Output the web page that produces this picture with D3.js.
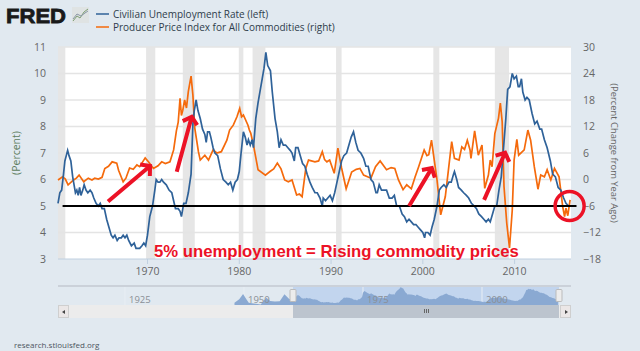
<!DOCTYPE html>
<html>
<head>
<meta charset="utf-8">
<script src="https://cdn.jsdelivr.net/npm/d3@7"></script>
<style>
  html, body { margin: 0; padding: 0; background: #e1e9f0; }
  svg { display: block; }
  text { font-family: "Open Sans", sans-serif; }
  .axis path { display: none; }
  .axis text { fill: #666; font-size: 10.5px; font-family: "Open Sans", sans-serif; }
</style>
</head>
<body>
<div id="graph"></div>
<script>
// Series, as [year, value]
const unemployment = [
  [1960.3,5.1],[1960.5,5.5],[1960.7,5.6],[1960.9,6.2],[1961.05,6.7],[1961.2,6.9],[1961.35,7.1],[1961.5,6.9],[1961.7,6.7],[1961.9,6.1],
  [1962.05,5.8],[1962.2,5.5],[1962.35,5.6],[1962.5,5.4],[1962.65,5.7],[1962.8,5.4],[1963,5.6],[1963.15,5.8],[1963.35,5.6],[1963.55,5.5],
  [1963.8,5.6],[1964,5.5],[1964.2,5.3],[1964.45,5.1],[1964.7,5.0],[1964.9,5.1],[1965.1,4.9],[1965.35,4.9],[1965.6,4.5],[1965.85,4.2],
  [1966.1,3.9],[1966.3,3.8],[1966.5,3.9],[1966.75,3.7],[1966.95,3.8],[1967.2,3.8],[1967.4,3.9],[1967.6,3.8],[1967.8,3.9],[1968,3.7],
  [1968.3,3.5],[1968.6,3.6],[1968.8,3.4],[1969.2,3.4],[1969.45,3.5],[1969.65,3.6],[1969.85,3.5],[1970.05,3.9],[1970.3,4.6],[1970.6,5.0],
  [1970.85,5.6],[1971,6.0],[1971.2,5.9],[1971.4,5.9],[1971.6,6.0],[1971.8,5.9],[1972.1,5.8],[1972.4,5.6],[1972.7,5.5],[1972.9,5.2],
  [1973.1,4.9],[1973.4,4.9],[1973.6,4.8],[1973.75,4.6],[1974,5.1],[1974.25,5.1],[1974.5,5.5],[1974.8,6.2],[1975,8.1],[1975.15,8.6],
  [1975.35,9.0],[1975.55,8.6],[1975.8,8.3],[1976.05,7.9],[1976.3,7.7],[1976.45,7.4],[1976.6,7.8],[1976.8,7.8],[1976.95,7.6],[1977.2,7.2],
  [1977.4,7.0],[1977.7,6.9],[1978,6.4],[1978.3,6.0],[1978.6,5.9],[1978.85,5.8],[1979.1,5.9],[1979.35,5.6],[1979.6,5.9],[1979.85,6.0],
  [1980.05,6.3],[1980.25,7.0],[1980.5,7.8],[1980.7,7.6],[1980.9,7.3],[1981.05,7.5],[1981.25,7.3],[1981.45,7.5],[1981.6,7.2],[1981.85,8.3],
  [1982.1,8.9],[1982.35,9.4],[1982.55,9.8],[1982.75,10.2],[1982.95,10.8],[1983.15,10.3],[1983.45,10.1],[1983.65,9.3],[1983.95,8.3],[1984.2,7.8],
  [1984.4,7.2],[1984.6,7.5],[1984.85,7.3],[1985.1,7.3],[1985.35,7.2],[1985.6,7.1],[1985.8,7.0],[1986.05,6.7],[1986.2,7.2],[1986.45,7.2],
  [1986.7,6.9],[1986.95,6.6],[1987.2,6.5],[1987.45,6.2],[1987.75,5.9],[1988,5.7],[1988.3,5.5],[1988.55,5.5],[1988.85,5.3],[1989.1,5.0],
  [1989.2,5.3],[1989.45,5.2],[1989.7,5.3],[1989.95,5.4],[1990.2,5.2],[1990.45,5.5],[1990.7,5.9],[1990.95,6.3],[1991.2,6.7],[1991.45,6.9],
  [1991.75,7.0],[1992,7.3],[1992.25,7.6],[1992.5,7.8],[1992.75,7.4],[1993,7.1],[1993.3,7.0],[1993.6,6.8],[1993.85,6.5],[1994.1,6.5],
  [1994.4,6.0],[1994.65,5.9],[1994.95,5.5],[1995.1,5.5],[1995.3,5.8],[1995.55,5.6],[1995.85,5.6],[1996.1,5.6],[1996.4,5.3],[1996.7,5.3],
  [1996.95,5.4],[1997.2,5.0],[1997.5,5.0],[1997.8,4.7],[1998.05,4.6],[1998.3,4.4],[1998.55,4.5],[1998.8,4.4],[1999.05,4.3],[1999.3,4.3],
  [1999.55,4.2],[1999.8,4.1],[2000.05,4.0],[2000.25,3.8],[2000.35,4.0],[2000.6,4.0],[2000.85,3.9],[2001.05,4.2],[2001.3,4.5],[2001.6,5.0],
  [2001.85,5.6],[2002.05,5.7],[2002.35,5.8],[2002.6,5.7],[2002.9,5.9],[2003.15,5.9],[2003.4,6.2],[2003.5,6.3],[2003.75,6.0],[2003.95,5.7],
  [2004.25,5.6],[2004.5,5.5],[2004.8,5.4],[2005.05,5.3],[2005.35,5.1],[2005.65,5.0],[2005.9,4.9],[2006.15,4.7],[2006.45,4.6],[2006.7,4.5],
  [2006.95,4.4],[2007.2,4.5],[2007.4,4.4],[2007.65,4.7],[2007.9,5.0],[2008.1,5.0],[2008.35,5.6],[2008.6,6.1],[2008.85,7.2],[2009.1,8.3],
  [2009.3,9.4],[2009.55,9.5],[2009.8,10.0],[2010,9.8],[2010.25,9.9],[2010.45,9.5],[2010.6,9.5],[2010.8,9.8],[2010.95,9.3],[2011.2,9.0],
  [2011.4,9.1],[2011.65,9.0],[2011.95,8.5],[2012.25,8.1],[2012.5,8.2],[2012.8,7.9],[2013,7.9],[2013.3,7.5],[2013.6,7.2],[2013.95,6.7],
  [2014.2,6.2],[2014.5,6.1],[2014.8,5.7],[2015.1,5.6],[2015.4,5.3],[2015.65,5.1],[2015.95,5.0]
]

const commodities = [
  [1960.3,-0.1],[1960.8,0.6],[1961.1,0.1],[1961.4,-1.2],[1962,-0.1],[1962.3,0.3],[1962.6,1.0],[1963.1,-0.5],[1963.6,0.3],[1964,-0.1],
  [1964.3,0.3],[1964.7,0.1],[1965.1,0.5],[1965.4,2.5],[1965.8,3.0],[1966.2,4.0],[1966.7,3.7],[1966.9,2.1],[1967.4,-0.5],[1967.7,0.3],
  [1968.1,2.6],[1968.5,2.3],[1968.9,3.3],[1969.2,2.9],[1969.8,4.9],[1970.2,3.9],[1970.7,2.5],[1971.2,3.1],[1971.6,4.0],[1972,3.6],
  [1972.5,4.0],[1972.9,6.7],[1973.2,11],[1973.4,13],[1973.6,18.4],[1973.75,14.5],[1973.9,15.7],[1974.1,18],[1974.3,16.2],[1974.5,19.9],
  [1974.8,23.4],[1975,19.1],[1975.2,11.7],[1975.6,6.3],[1975.8,4.4],[1976.3,5.5],[1976.7,4.4],[1977.2,6.7],[1977.6,6],[1978.1,6.3],
  [1978.7,8.9],[1979,11.2],[1979.4,12.3],[1979.8,14.2],[1980.1,16.1],[1980.3,14.2],[1980.5,14.6],[1981,12.3],[1981.15,11.2],[1981.3,10.5],
  [1981.6,7.8],[1982.1,2.2],[1982.9,1],[1983.4,1.8],[1983.8,2.4],[1984.2,3.7],[1984.6,2.4],[1985,-0.1],[1985.4,-0.5],[1985.8,-0.1],
  [1986.3,-3.5],[1986.6,-3.3],[1986.9,-3.9],[1987.3,2.5],[1987.6,4.4],[1988.3,4],[1988.7,4.2],[1989.1,6.3],[1989.35,4.5],[1989.6,4],
  [1989.9,4.4],[1990.4,1.4],[1990.8,7.1],[1991.2,2.6],[1991.7,-2.1],[1992.3,1.7],[1992.8,2.3],[1993.2,2.5],[1993.6,1],[1994.4,0.3],
  [1994.9,2.9],[1995.4,4.2],[1996.1,2.2],[1996.6,2.7],[1997,2.5],[1997.4,-0.1],[1997.9,-2.3],[1998.3,-1.2],[1998.8,-2.1],[1999.2,0.5],
  [1999.6,2.9],[2000.2,6.7],[2000.5,5.4],[2000.7,5.6],[2001,8.9],[2001.3,4.4],[2001.6,-0.1],[2002,-8],[2002.5,-3.9],[2002.8,1.4],
  [2003.2,8.6],[2003.5,4.8],[2004,4.4],[2004.3,7.4],[2004.6,6.8],[2004.9,8.9],[2005.2,6.7],[2005.3,4.8],[2005.7,11],[2006.1,5.5],
  [2006.5,7.8],[2006.8,-2],[2007.2,1],[2007.4,4.4],[2007.6,2.9],[2007.9,10.4],[2008.3,13.9],[2008.5,17.3],[2008.7,13.1],[2008.9,-1.6],
  [2009.2,-9.9],[2009.5,-15.5],[2009.8,-6.9],[2010,4.4],[2010.3,9.1],[2010.5,5.5],[2011.1,6.7],[2011.5,11.2],[2011.8,8.9],[2012.2,2.9],
  [2012.6,-2.2],[2012.9,1],[2013.3,0.6],[2013.6,2.2],[2014,-0.1],[2014.4,2.5],[2014.9,0.6],[2015.3,-6.2],[2015.5,-8.4],[2015.65,-6.5],
  [2015.85,-8.2],[2016.1,-4.6]
]

// Unemployment before the main window, only seen in the navigator
const earlyUnemployment = [
  [1948,3.5],[1949,5.2],[1949.8,7.6],[1950.5,5.2],[1951,3.5],[1952,3.2],[1953.5,2.7],[1954.7,5.9],[1955.5,4.3],[1956.5,4.1],
  [1957.5,4.2],[1958.5,7.4],[1959.5,5.3]
]

const recessions = [[1960.3,1961.1],[1969.9,1970.9],[1973.9,1975.2],[1980,1980.5],[1981.5,1982.9],[1990.6,1991.2],[2001.2,2001.85],[2007.9,2009.45]]

const xTicks = [1970,1980,1990,2000,2010]
const leftTicks = [3,4,5,6,7,8,9,10,11]
const rightTicks = [-18,-12,-6,0,6,12,18,24,30]
const navTicks = [1925,1950,1975,2000]

// Annotations drawn over the chart, in year / percent
const fivePercent = [[1960.8,5],[2016.8,5]]
const arrows = [
  [[1965.75,5.17],[1970.33,6.51]],
  [[1973.24,6.29],[1974.87,8.37]],
  [[1998.56,5.0],[2001.03,6.43]],
  [[2006.73,5.23],[2009.02,7.01]]
]
const circled = [2016.05,5]

const blue = "#2f6299", orange = "#f56a0c", red = "#ec1226"

const width = 640, height = 351
const margin = { top: 47, right: 69, bottom: 92, left: 58 }

const svg = d3.select("#graph").append("svg").attr("width", width).attr("height", height)

const x = d3.scaleLinear().domain([1960.3, 2016.2]).range([margin.left, width - margin.right])
const y = d3.scaleLinear().domain([3, 11]).range([height - margin.bottom, margin.top])
const yRight = d3.scaleLinear().domain([-18, 30]).range([height - margin.bottom, margin.top])

// Plot background
svg.append("rect").attr("x", margin.left).attr("y", margin.top)
  .attr("width", width - margin.left - margin.right).attr("height", height - margin.top - margin.bottom)
  .attr("fill", "#fff")

// Recession bars
svg.selectAll(".recession").data(recessions).enter().append("rect")
  .attr("class", "recession")
  .attr("x", d => x(d[0])).attr("width", d => x(d[1]) - x(d[0]))
  .attr("y", margin.top).attr("height", height - margin.top - margin.bottom)
  .attr("fill", "#e6e6e6")

// Grid lines
svg.selectAll(".grid").data(leftTicks.slice(1)).enter().append("line")
  .attr("class", "grid")
  .attr("x1", margin.left).attr("x2", width - margin.right)
  .attr("y1", d => y(d)).attr("y2", d => y(d))
  .attr("stroke", "#e4e4e4").attr("stroke-width", 1.5)

// Axes
svg.append("g").attr("class", "axis").attr("transform", `translate(0, ${height - margin.bottom})`)
  .call(d3.axisBottom(x).tickValues(xTicks).tickFormat(d3.format("d")).tickSize(5).tickPadding(4))
  .selectAll("line").attr("stroke", "#c0d0e0")
svg.append("line").attr("x1", margin.left).attr("x2", width - margin.right)
  .attr("y1", height - margin.bottom).attr("y2", height - margin.bottom).attr("stroke", "#c0d0e0")

svg.append("g").attr("class", "axis").attr("transform", `translate(${margin.left - 12}, 0)`)
  .call(d3.axisLeft(y).tickValues(leftTicks).tickFormat(d3.format("d")).tickSize(0).tickPadding(0))
svg.append("g").attr("class", "axis").attr("transform", `translate(${width - margin.right + 12}, 0)`)
  .call(d3.axisRight(yRight).tickValues(rightTicks).tickFormat(d3.format("d")).tickSize(0).tickPadding(0))

// Axis titles
svg.append("text").attr("transform", "translate(20, 153) rotate(-90)")
  .attr("text-anchor", "middle").attr("font-size", 10.5).attr("fill", "#5d7d5d").text("(Percent)")
svg.append("text").attr("transform", "translate(611, 153) rotate(90)")
  .attr("text-anchor", "middle").attr("font-size", 9.4).attr("fill", "#666").text("(Percent Change from Year Ago)")

// The two series
const line = scale => d3.line().x(d => x(d[0])).y(d => scale(d[1]))
svg.append("path").datum(commodities).attr("d", line(yRight))
  .attr("fill", "none").attr("stroke", orange).attr("stroke-width", 1.7)
svg.append("path").datum(unemployment).attr("d", line(y))
  .attr("fill", "none").attr("stroke", blue).attr("stroke-width", 1.7)

// Hand drawn annotations
svg.append("path").datum(fivePercent).attr("d", line(y))
  .attr("fill", "none").attr("stroke", "#000").attr("stroke-width", 2)

arrows.forEach(a => {
  const [x0, y0] = [x(a[0][0]), y(a[0][1])]
  const [x1, y1] = [x(a[1][0]), y(a[1][1])]
  const angle = Math.atan2(y1 - y0, x1 - x0)
  const head = 10
  const left = [x1 - head * Math.cos(angle - 0.85), y1 - head * Math.sin(angle - 0.85)]
  const right = [x1 - head * Math.cos(angle + 0.85), y1 - head * Math.sin(angle + 0.85)]
  svg.append("path")
    .attr("d", `M${x0},${y0}L${x1},${y1}M${left}L${x1},${y1}L${right}`)
    .attr("fill", "none").attr("stroke", red).attr("stroke-width", 4)
})

svg.append("circle").attr("cx", x(circled[0])).attr("cy", y(circled[1])).attr("r", 14.5)
  .attr("fill", "none").attr("stroke", red).attr("stroke-width", 3.5)

svg.append("text").attr("x", 154).attr("y", 257)
  .style("font-family", '"Liberation Sans", Arial, sans-serif')
  .attr("font-size", 16.7).attr("font-weight", "bold").attr("fill", red)
  .text("5% unemployment = Rising commodity prices")

// Logo and legend
svg.append("text").attr("x", 6).attr("y", 23)
  .style("font-family", '"Liberation Sans", Arial, sans-serif')
  .attr("font-size", 21).attr("font-weight", "bold").attr("fill", "#1a1a1a")
  .attr("stroke", "#1a1a1a").attr("stroke-width", 0.8)
  .attr("textLength", 60).attr("lengthAdjust", "spacingAndGlyphs").text("FRED")
svg.append("rect").attr("x", 72).attr("y", 7).attr("width", 17).attr("height", 16).attr("fill", "#dfe3e3")
svg.append("path").attr("d", "M73,21L77,16L80,18L84,12L88,9").attr("fill", "none").attr("stroke", "#7d9d72")
svg.append("path").attr("d", "M73,19L77,14L81,16L85,13L88,11").attr("fill", "none").attr("stroke", "#8a97a5")

const legend = [["Civilian Unemployment Rate (left)", blue, 14], ["Producer Price Index for All Commodities (right)", orange, 27]]
legend.forEach(l => {
  svg.append("line").attr("x1", 96).attr("x2", 109).attr("y1", l[2]).attr("y2", l[2])
    .attr("stroke", l[1]).attr("stroke-width", 1.5)
  svg.append("text").attr("x", 113).attr("y", l[2] + 4).attr("font-size", 10).attr("font-weight", 500)
    .attr("fill", "#2f3d4c").text(l[0])
})

// Navigator
const navTop = 287, navBottom = 305
const navX = d3.scaleLinear().domain([1925, 2000]).range([125, 482])
const navY = d3.scaleLinear().domain([2.5, 10.8]).range([navBottom, navTop])
const navData = earlyUnemployment.concat(unemployment)
const selStart = 293, selEnd = 559

svg.append("line").attr("x1", margin.left).attr("x2", width - margin.right)
  .attr("y1", navTop - 1).attr("y2", navTop - 1).attr("stroke", "#c3c9d2").attr("stroke-width", 1.5)
svg.append("rect").attr("x", selStart).attr("y", navTop).attr("width", selEnd - selStart)
  .attr("height", navBottom - navTop).attr("fill", "#c2d5ee")
svg.selectAll(".navtick").data(navTicks).enter().append("line")
  .attr("x1", d => navX(d)).attr("x2", d => navX(d)).attr("y1", navTop).attr("y2", navBottom)
  .attr("stroke", "#e8eef4")
svg.append("path").datum(navData)
  .attr("d", d3.area().x(d => navX(d[0])).y0(navBottom).y1(d => navY(d[1])))
  .attr("fill", "#8aa9d2")
svg.selectAll(".navlabel").data(navTicks).enter().append("text")
  .attr("x", d => navX(d) + 4).attr("y", 303)
  .attr("font-size", 9.5).attr("fill", "#8a8f95").text(d => d)

// Scrollbar
svg.append("rect").attr("x", margin.left).attr("y", 305).attr("width", width - margin.left - margin.right)
  .attr("height", 13).attr("fill", "#ececec")
svg.append("rect").attr("x", selStart).attr("y", 305).attr("width", selEnd - selStart).attr("height", 13).attr("fill", "#bcc4ce")
const buttons = [[58, "M65,310L62,312L65,314Z"], [560, "M565,310L568,312L565,314Z"]]
buttons.forEach(b => {
  svg.append("rect").attr("x", b[0] + 0.5).attr("y", 305.5).attr("width", 10).attr("height", 12)
    .attr("fill", "#ebe7e7").attr("stroke", "#cfcfcf")
  svg.append("path").attr("d", b[1]).attr("fill", "#444")
})
svg.append("path").attr("d", "M424.5,309V313M426.5,309V313M428.5,309V313").attr("stroke", "#666")
;[selStart, selEnd].forEach(h => {
  svg.append("rect").attr("x", h - 3).attr("y", 289.5).attr("width", 6).attr("height", 12).attr("rx", 1)
    .attr("fill", "#ececec").attr("stroke", "#bbb")
})

svg.append("text").attr("x", 14).attr("y", 347.5).attr("font-size", 8).attr("fill", "#4d5560").text("research.stlouisfed.org")
</script>
</body>
</html>
